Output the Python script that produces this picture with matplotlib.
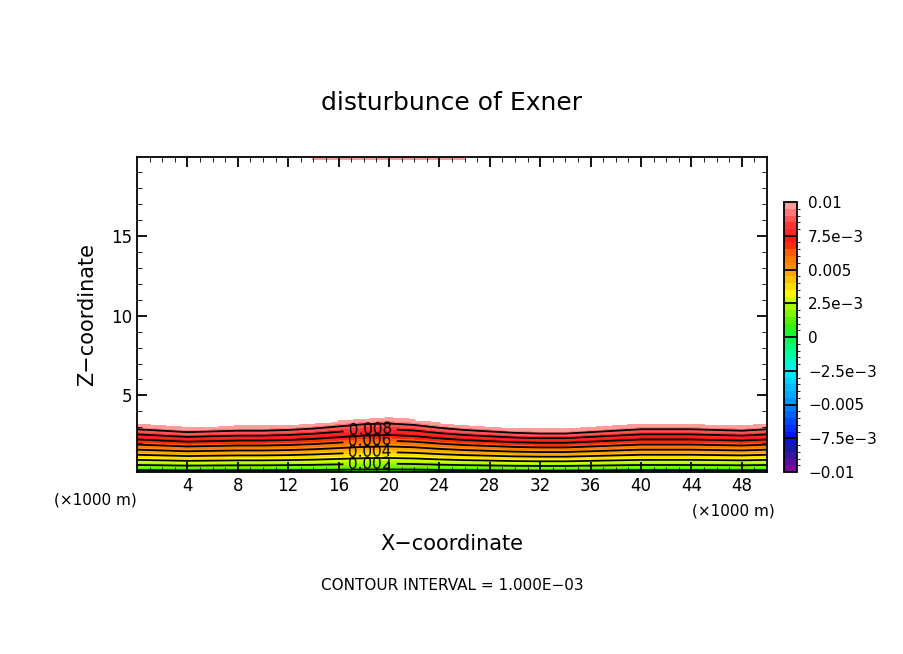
import numpy as np
import matplotlib
matplotlib.use("Agg")
import matplotlib.pyplot as plt
from matplotlib.colors import LinearSegmentedColormap, BoundaryNorm

# x positions (km) and height (km) where the disturbance reaches 0.01
x_km = [0, 2, 4, 6, 8, 10, 12, 14, 16, 18, 20, 22, 24, 26, 28, 30, 32, 34, 36, 38, 40, 42, 44, 46, 48, 50]
top_height = [3.2, 3.1, 3.0, 3.05, 3.1, 3.1, 3.15, 3.25, 3.4, 3.55, 3.6, 3.5, 3.3, 3.15, 3.05, 2.95, 2.9, 2.9, 3.0, 3.1, 3.2, 3.2, 3.2, 3.15, 3.1, 3.2]
# values in the top rows of the domain (z >= 19.8 km)
top_row = [0.02, 0.02, 0.02, 0.02, 0.02, 0.02, 0.02, 0.0097, 0.0097, 0.0097, 0.0097, 0.0097, 0.0097, 0.0097, 0.02, 0.02, 0.02, 0.02, 0.02, 0.02, 0.02, 0.02, 0.02, 0.02, 0.02, 0.02]
z_km = list(np.round(np.arange(0.2, 5.01, 0.1), 2)) + [19.7, 19.8, 19.95]
peak = 0.01

X = np.array(x_km, float)
Z = np.array(z_km, float)
H = np.array(top_height)
F = np.empty((len(Z), len(X)))
for i, z in enumerate(Z):
    F[i] = np.where(z <= H, peak * z / H, 0.02)
F[-1] = top_row
F[-2] = top_row

levels = np.round(np.arange(-0.01, 0.01001, 0.0005), 5)
anchors = [(0.0, "#7a0aa0"), (0.075, "#1a1aa0"), (0.125, "#0010ff"), (0.25, "#0090ff"),
           (0.37, "#00f0ff"), (0.43, "#00ffa8"), (0.5, "#00ff40"), (0.55, "#40f000"),
           (0.64, "#c8ff00"), (0.66, "#ffff00"), (0.75, "#ffa000"), (0.82, "#ff6000"),
           (0.86, "#ff1010"), (0.93, "#ff3838"), (1.0, "#ff9c9c")]
cmap = LinearSegmentedColormap.from_list("gr", anchors, N=40)
norm = BoundaryNorm(levels, 40)

fig = plt.figure(figsize=(9.04, 6.54), dpi=100)
W, Hh = 904, 654
ax = fig.add_axes([137 / W, 1 - 472 / Hh, 630 / W, 315 / Hh])
ax.contourf(X, Z, F, levels=levels, cmap=cmap, norm=norm)
cl = [0.001, 0.003, 0.005, 0.007, 0.009]
ax.contour(X, Z[:-3], F[:-3], levels=cl, colors="k", linewidths=1.3)
cs = ax.contour(X, Z[:-3], F[:-3], levels=[0.002, 0.004, 0.006, 0.008], colors="k", linewidths=1.3)
ax.clabel(cs, fmt="%.3f", fontsize=11, inline=True,
          manual=[(18.5, 0.65), (18.5, 1.4), (18.5, 2.1), (18.5, 2.8)])
ax.set_xlim(0, 50)
ax.set_ylim(0.2, 19.95)
ax.set_xticks(np.arange(4, 49, 4))
ax.set_xticks(np.arange(1, 50, 1), minor=True)
ax.set_yticks([5, 10, 15])
ax.set_yticks(np.arange(1, 20, 1), minor=True)
ax.tick_params(direction="in", which="both", top=True, right=True, labelsize=12)
ax.tick_params(which="major", length=7, width=1.3)
ax.tick_params(which="minor", length=3.5)
for s in ax.spines.values():
    s.set_linewidth(1.3)
ax.set_xlabel("X\u2212coordinate", fontsize=15, labelpad=28)
ax.set_ylabel("Z\u2212coordinate", fontsize=15, labelpad=10)
fig.text(452 / W, 1 - 103 / Hh, "disturbunce of Exner", fontsize=18, ha="center", va="center")
fig.text(95 / W, 1 - 500 / Hh, "(\u00d71000 m)", fontsize=11, ha="center", va="center")
fig.text(733 / W, 1 - 511 / Hh, "(\u00d71000 m)", fontsize=11, ha="center", va="center")
fig.text(452 / W, 1 - 586 / Hh, "CONTOUR INTERVAL = 1.000E\u221203", fontsize=11, ha="center", va="center")

cax = fig.add_axes([784 / W, 1 - 472 / Hh, 13 / W, 270 / Hh])
sm = matplotlib.cm.ScalarMappable(norm=norm, cmap=cmap)
cb = fig.colorbar(sm, cax=cax, ticks=np.round(np.arange(-0.01, 0.0101, 0.0025), 4))
cb.ax.set_yticklabels(["\u22120.01", "\u22127.5e\u22123", "\u22120.005", "\u22122.5e\u22123", "0",
                       "2.5e\u22123", "0.005", "7.5e\u22123", "0.01"], fontsize=11)
cb.ax.tick_params(length=0, pad=8)
for v in np.arange(-0.0075, 0.0076, 0.0025):
    cb.ax.axhline(v, color="k", lw=1.3)
cb.outline.set_linewidth(1.3)
fig.savefig("out.png", dpi=100)
